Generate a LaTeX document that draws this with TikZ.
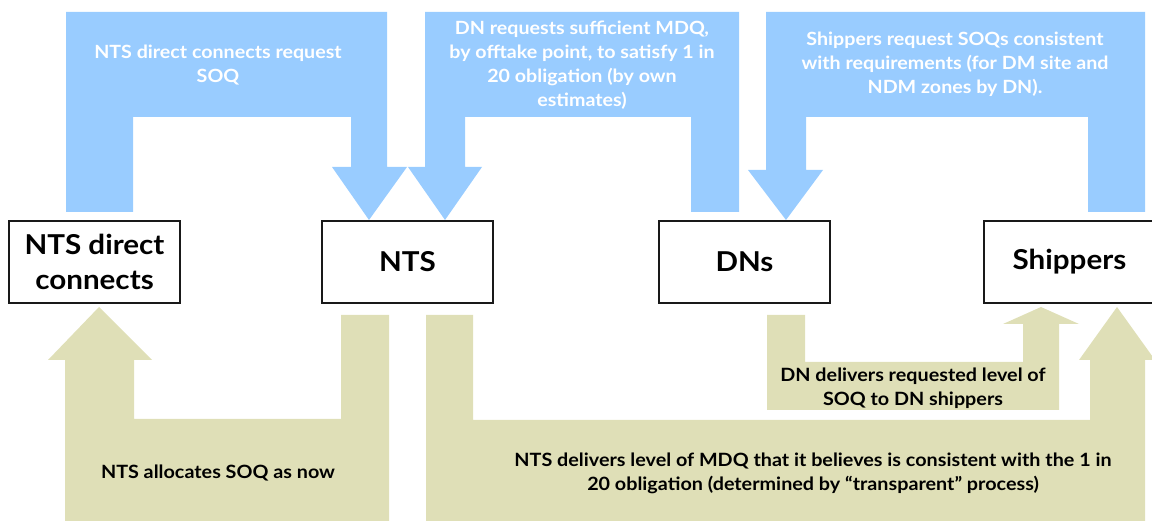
\documentclass[tikz,border=0pt]{standalone}
\usepackage{fontspec}
\setmainfont{Lato}[FakeStretch=1.08]
\definecolor{reqblue}{HTML}{99CCFF}
\definecolor{delkhaki}{HTML}{DFDFB7}
\tikzset{
  party/.style={draw=black!90, line width=1.3pt, fill=white, minimum width=171pt, minimum height=82pt, inner sep=0pt, align=center, font=\fontsize{27.4}{35}\selectfont\bfseries},
  reqtext/.style={text=white, align=center, inner sep=0pt, font=\fontsize{18.2}{24}\selectfont\bfseries},
  deltext/.style={text=black, align=center, inner sep=0pt, font=\fontsize{18.3}{24}\selectfont\bfseries},
  reqflow/.style={fill=reqblue},
  delflow/.style={fill=delkhaki}
}

\begin{document}
\begin{tikzpicture}[x=1pt, y=-1pt]
\useasboundingbox (0,0) rectangle (1152,521);
\clip (0,0) rectangle (1152,521);

% requests (blue)
\draw[reqflow, draw=none] (66,212) -- (66,12) -- (387,12) -- (387,167) -- (407,167) -- (369,220) -- (332,167) -- (351,167) -- (351,117) -- (133,117) -- (133,212) -- cycle;
\draw[reqflow, draw=none] (739,212) -- (739,12) -- (425,12) -- (425,167) -- (408,167) -- (445,220) -- (482,167) -- (465,167) -- (465,117) -- (691,117) -- (691,212) -- cycle;
\draw[reqflow, draw=none] (1145,212) -- (1145,12) -- (766,12) -- (766,170) -- (748,170) -- (786,220) -- (823,170) -- (806,170) -- (806,117) -- (1088,117) -- (1088,212) -- cycle;

% deliveries (khaki)
\draw[delflow, draw=none] (389,315) -- (389,521) -- (65,521) -- (65,360) -- (48,360) -- (99,307) -- (152,360) -- (134,360) -- (134,419) -- (341,419) -- (341,315) -- cycle;
\draw[delflow, draw=none] (426,315) -- (426,521) -- (1145,521) -- (1145,360) -- (1155,360) -- (1117,307) -- (1079,360) -- (1090,360) -- (1090,420) -- (473,420) -- (473,315) -- cycle;
\draw[delflow, draw=none] (767,315) -- (767,410) -- (1059,410) -- (1059,324) -- (1079,324) -- (1041,307) -- (1003,324) -- (1023,324) -- (1023,362) -- (805,362) -- (805,315) -- cycle;

\node[party] (ntsdc) at (94.5,262) {NTS direct\\connects};
\node[party] (nts) at (407.5,262) {NTS};
\node[party] (dns) at (744.5,262) {DNs};
\node[party] (ship) at (1069.5,262) {Shippers};

\node[reqtext] (reqdc) at (218,65) {NTS direct connects request\\SOQ};
\node[reqtext] (reqdn) at (582,65) {DN requests sufficient MDQ,\\by offtake point, to satisfy 1 in\\20 obligation (by own\\estimates)};
\node[reqtext] (reqship) at (955,64) {Shippers request SOQs consistent\\with requirements (for DM site and\\NDM zones by DN).};

\node[deltext] (alloc) at (218,473) {NTS allocates SOQ as now};
\node[deltext] (dndel) at (913,388) {DN delivers requested level of\\SOQ to DN shippers};
\node[deltext] (ntsdel) at (813,473) {NTS delivers level of MDQ that it believes is consistent with the 1 in\\20 obligation (determined by ``transparent'' process)};
\end{tikzpicture}
\end{document}
